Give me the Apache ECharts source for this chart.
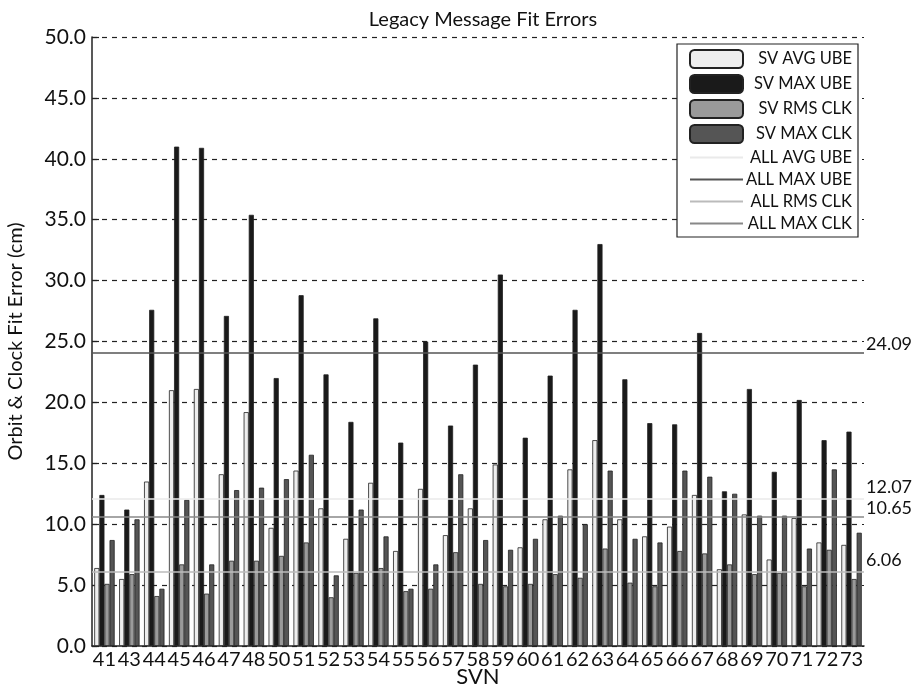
<!DOCTYPE html>
<html>
<head>
<meta charset="utf-8">
<script src="https://cdn.jsdelivr.net/npm/echarts@6/dist/echarts.min.js"></script>
<style>html,body{margin:0;padding:0;background:#fff;}#chart{width:924px;height:689px;}</style>
</head>
<body>
<div id="chart"></div>
<script>
const categories = ['41','43','44','45','46','47','48','50','51','52','53','54','55','56','57','58','59','60','61','62','63','64','65','66','67','68','69','70','71','72','73'];
const svAvgUbe = [6.4,5.5,13.5,21.0,21.1,14.1,19.2,9.7,14.4,11.3,8.8,13.4,7.8,12.9,9.1,11.3,14.9,8.1,10.4,14.5,16.9,10.4,9.0,9.8,12.4,6.3,10.8,7.1,10.5,8.5,8.3];
const svMaxUbe = [12.4,11.2,27.6,41.0,40.9,27.1,35.4,22.0,28.8,22.3,18.4,26.9,16.7,25.0,18.1,23.1,30.5,17.1,22.2,27.6,33.0,21.9,18.3,18.2,25.7,12.7,21.1,14.3,20.2,16.9,17.6];
const svRmsClk = [5.1,5.9,4.1,6.7,4.3,7.0,7.0,7.4,8.5,4.0,6.0,6.4,4.5,4.7,7.7,5.1,4.9,5.1,5.9,5.6,8.0,5.2,4.9,7.8,7.6,6.7,5.9,6.0,4.9,7.9,5.5];
const svMaxClk = [8.7,10.4,4.7,12.0,6.7,12.8,13.0,13.7,15.7,5.8,11.2,9.0,4.7,6.7,14.1,8.7,7.9,8.8,10.7,10.0,14.4,8.8,8.5,14.4,13.9,12.5,10.7,10.7,8.0,14.5,9.3];
const allAvgUbe = 12.07;
const allMaxUbe = 24.09;
const allRmsClk = 6.06;
const allMaxClk = 10.65;
const yTicks = {min: 0, max: 50, interval: 5};

const FONT = 'Lato';
const chart = echarts.init(document.getElementById('chart'));

function barSeries(name, data, color) {
  return {
    name: name, type: 'bar', data: data,
    barGap: '0%', barCategoryGap: '18%',
    itemStyle: {color: color, borderColor: '#222', borderWidth: 0.8},
    emphasis: {disabled: true}
  };
}
function lineSeries(name, value, color, dy) {
  return {
    name: name, type: 'line', data: [], symbol: 'none',
    lineStyle: {color: color, width: 1.6},
    itemStyle: {color: color},
    markLine: {
      silent: true, symbol: ['none', 'none'],
      lineStyle: {color: color, width: 1.6, type: 'solid'},
      label: {show: true, position: 'end', distance: 2, offset: [0, dy],
        formatter: function (p) { return String(p.value); },
        color: '#111', fontSize: 18, fontFamily: FONT},
      data: [{yAxis: value}]
    }
  };
}

chart.setOption({
  animation: false,
  backgroundColor: '#fff',
  title: {text: 'Legacy Message Fit Errors', left: 478, textAlign: 'center', top: 5,
    textStyle: {fontSize: 20, fontWeight: 'normal', color: '#111', fontFamily: FONT}},
  grid: {left: 92, right: 60, top: 37, bottom: 43, outerBoundsMode: 'none', containLabel: false},
  legend: {
    orient: 'vertical', right: 66, top: 44,
    backgroundColor: '#fff', borderColor: '#222', borderWidth: 1.2,
    padding: [5, 6, 5, 12], itemGap: 5, itemWidth: 53, itemHeight: 18,
    formatter: function (n) { return '{t|' + n + '}'; },
    textStyle: {fontSize: 16.5, color: '#111', fontFamily: FONT,
      rich: {t: {width: 104, align: 'right', fontSize: 16.5, fontFamily: FONT, color: '#111'}}},
    data: [
      {name: 'SV AVG UBE', icon: 'roundRect'},
      {name: 'SV MAX UBE', icon: 'roundRect'},
      {name: 'SV RMS CLK', icon: 'roundRect'},
      {name: 'SV MAX CLK', icon: 'roundRect'},
      {name: 'ALL AVG UBE', itemStyle: {opacity: 0}},
      {name: 'ALL MAX UBE', itemStyle: {opacity: 0}},
      {name: 'ALL RMS CLK', itemStyle: {opacity: 0}},
      {name: 'ALL MAX CLK', itemStyle: {opacity: 0}}
    ]
  },
  xAxis: {
    type: 'category', data: categories,
    name: 'SVN', nameLocation: 'middle', nameGap: 20, nameMoveOverlap: false,
    nameTextStyle: {fontSize: 22, color: '#111', fontFamily: FONT},
    axisLine: {lineStyle: {color: '#222', width: 1.5}},
    axisTick: {show: false},
    axisLabel: {interval: 0, fontSize: 20, color: '#111', margin: 4, fontFamily: FONT},
    splitLine: {show: false}
  },
  yAxis: {
    type: 'value', min: yTicks.min, max: yTicks.max, interval: yTicks.interval,
    name: 'Orbit & Clock Fit Error (cm)', nameLocation: 'middle', nameGap: 66, nameMoveOverlap: false,
    nameTextStyle: {fontSize: 20, color: '#111', fontFamily: FONT},
    axisLine: {show: true, lineStyle: {color: '#222', width: 1.5}},
    axisTick: {show: true, inside: true, length: 7, lineStyle: {color: '#222', width: 1.2}},
    axisLabel: {fontSize: 21, color: '#111', margin: 6, fontFamily: FONT,
      formatter: function (v) { return v.toFixed(1); }},
    splitLine: {show: true, lineStyle: {color: '#222', type: [5, 5], width: 1.2}}
  },
  series: [
    barSeries('SV AVG UBE', svAvgUbe, '#eeeeee'),
    barSeries('SV MAX UBE', svMaxUbe, '#1a1a1a'),
    barSeries('SV RMS CLK', svRmsClk, '#9a9a9a'),
    barSeries('SV MAX CLK', svMaxClk, '#555555'),
    lineSeries('ALL AVG UBE', allAvgUbe, '#eaeaea', -12),
    lineSeries('ALL MAX UBE', allMaxUbe, '#555555', -8),
    lineSeries('ALL RMS CLK', allRmsClk, '#bbbbbb', -12),
    lineSeries('ALL MAX CLK', allMaxClk, '#888888', -8)
  ]
});
</script>
</body>
</html>
